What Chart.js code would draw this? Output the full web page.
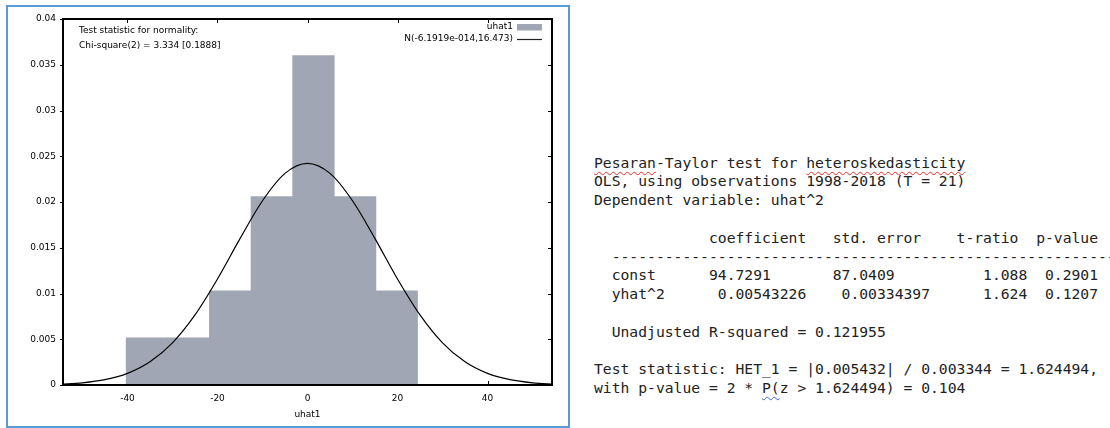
<!DOCTYPE html>
<html>
<head>
<meta charset="utf-8">
<title>uhat1 - normality and heteroskedasticity</title>
<script src="https://cdn.jsdelivr.net/npm/chart.js@4.4.1/dist/chart.umd.min.js"></script>
<style>
  html, body { margin: 0; padding: 0; background: #fff; }
  body { width: 1110px; height: 428px; position: relative; overflow: hidden; }
  #frame { position: absolute; left: 6px; top: 5px; width: 560px; height: 419px; border: 2px solid #5b9bd5; }
  #plot { position: absolute; left: 0; top: 0; width: 575px; height: 428px; }
  #report {
    position: absolute; left: 594px; top: 153.6px; margin: 0;
    font: 14.7px/18.8px "DejaVu Sans Mono", "Liberation Mono", monospace;
    color: #222; white-space: pre;
  }
  .spell { text-decoration: underline wavy #e0302a; text-decoration-thickness: 1px; text-underline-offset: 3px; }
  .gram { text-decoration: underline wavy #3f63d6; text-decoration-thickness: 1px; text-underline-offset: 3px; }
</style>
</head>
<body>
<div id="frame"></div>
<div id="plot"><canvas id="histChart"></canvas></div>
<pre id="report"><span class="spell">Pesaran</span>-Taylor test for <span class="spell">heteroskedasticity</span>
OLS, using observations 1998-2018 (T = 21)
Dependent variable: uhat^2

             coefficient   std. error    t-ratio  p-value
  ----------------------------------------------------------
  const      94.7291       87.0409          1.088  0.2901
  yhat^2      0.00543226    0.00334397      1.624  0.1207

  Unadjusted R-squared = 0.121955

Test statistic: HET_1 = |0.005432| / 0.003344 = 1.624494,
with p-value = 2 * <span class="gram">P(</span>z &gt; 1.624494) = 0.104</pre>

<script>
// histogram of uhat1 on a density scale (7 bins, 21 obs)
const binCenters = [-35.675, -26.425, -17.175, -7.925, 1.325, 10.575, 19.825];
const binDensity = [0.00515, 0.00515, 0.0103, 0.0206, 0.0360, 0.0206, 0.0103];

// fitted normal density N(-6.1919e-014, 16.473)
const curveX = [-55, -50, -45, -40, -35, -30, -25, -20, -15, -10, -5, 0,
                5, 10, 15, 20, 25, 30, 35, 40, 45, 50, 55];
const curveY = [0.00009, 0.00024, 0.00058, 0.00127, 0.00254, 0.00461, 0.00766, 0.01159, 0.01600, 0.02014, 0.02313, 0.02422,
                0.02313, 0.02014, 0.01600, 0.01159, 0.00766, 0.00461, 0.00254, 0.00127, 0.00058, 0.00024, 0.00009];

const xRange = [-54.33, 54.33];
const yRange = [0, 0.04];
const xTickStep = 20;
const yTickStep = 0.005;

const seriesLabels = ["uhat1", "N(-6.1919e-014,16.473)"];
const noteLines = ["Test statistic for normality:", "Chi-square(2) = 3.334 [0.1888]"];

const BAR_COLOR = "rgb(160,166,180)";

Chart.defaults.font.family = "'DejaVu Sans', Verdana, sans-serif";
Chart.defaults.font.size = 9;
Chart.defaults.color = "#000";

// gnuplot-like box: ticks under the bars, frame, note text and key on top
const gnuplotBox = {
  id: "gnuplotBox",
  beforeDatasetsDraw(chart) {
    const { ctx, chartArea: a, scales: { x, y } } = chart;
    ctx.save();
    ctx.strokeStyle = "#000";
    ctx.lineWidth = 1;
    ctx.beginPath();
    x.ticks.forEach(t => {
      const px = Math.round(x.getPixelForValue(t.value)) + 0.5;
      ctx.moveTo(px, a.bottom); ctx.lineTo(px, a.bottom - 4);
      ctx.moveTo(px, a.top); ctx.lineTo(px, a.top + 4);
    });
    y.ticks.forEach(t => {
      const py = Math.round(y.getPixelForValue(t.value)) + 0.5;
      ctx.moveTo(a.left - 3, py); ctx.lineTo(a.left, py);
      ctx.moveTo(a.right, py); ctx.lineTo(a.right - 4, py);
    });
    ctx.stroke();
    ctx.restore();
  },
  afterDatasetsDraw(chart) {
    const { ctx, chartArea: a } = chart;
    ctx.save();
    ctx.strokeStyle = "#000";
    ctx.lineWidth = 2;
    ctx.strokeRect(a.left, a.top, a.right - a.left, a.bottom - a.top);

    ctx.font = "9px 'DejaVu Sans', Verdana, sans-serif";
    ctx.fillStyle = "#000";
    ctx.textBaseline = "middle";
    ctx.textAlign = "left";
    noteLines.forEach((s, i) => ctx.fillText(s, a.left + 16, a.top + 11.5 + i * 15));

    // key, top right
    const sx = a.right - 35;
    ctx.textAlign = "right";
    ctx.fillText(seriesLabels[0], sx - 4, a.top + 8);
    ctx.fillStyle = BAR_COLOR;
    ctx.fillRect(sx, a.top + 5, 25, 6.5);
    ctx.fillStyle = "#000";
    ctx.fillText(seriesLabels[1], sx - 4, a.top + 20);
    ctx.strokeStyle = "#222";
    ctx.lineWidth = 1.2;
    ctx.beginPath();
    ctx.moveTo(sx, a.top + 20.5); ctx.lineTo(sx + 25, a.top + 20.5);
    ctx.stroke();
    ctx.restore();
  }
};

new Chart(document.getElementById("histChart"), {
  type: "bar",
  data: {
    datasets: [
      {
        type: "line",
        label: seriesLabels[1],
        data: curveX.map((x, i) => ({ x, y: curveY[i] })),
        borderColor: "#000",
        borderWidth: 1.2,
        pointRadius: 0,
        cubicInterpolationMode: "monotone",
        fill: false,
        order: 0
      },
      {
        label: seriesLabels[0],
        data: binCenters.map((x, i) => ({ x, y: binDensity[i] })),
        backgroundColor: BAR_COLOR,
        borderWidth: 0,
        barPercentage: 1,
        categoryPercentage: 1,
        order: 1
      }
    ]
  },
  options: {
    responsive: true,
    maintainAspectRatio: false,
    animation: false,
    events: [],
    layout: { padding: { left: 0, top: 19, right: 23, bottom: 0 } },
    plugins: {
      legend: { display: false },
      tooltip: { enabled: false }
    },
    scales: {
      x: {
        type: "linear",
        min: xRange[0],
        max: xRange[1],
        offset: false,
        grid: { display: false, drawTicks: false },
        border: { display: false },
        ticks: {
          stepSize: xTickStep,
          includeBounds: false,
          padding: 8,
          maxRotation: 0,
          callback: v => String(v)
        },
        title: { display: true, text: "uhat1", padding: { top: 0, bottom: 7.6 } },
        afterFit: s => { s.height = 43; }
      },
      y: {
        min: yRange[0],
        max: yRange[1],
        grid: { display: false, drawTicks: false },
        border: { display: false },
        ticks: {
          stepSize: yTickStep,
          padding: 7,
          callback: v => String(+v.toFixed(4))
        },
        afterFit: s => { s.width = 63; }
      }
    }
  },
  plugins: [gnuplotBox]
});
</script>
</body>
</html>
